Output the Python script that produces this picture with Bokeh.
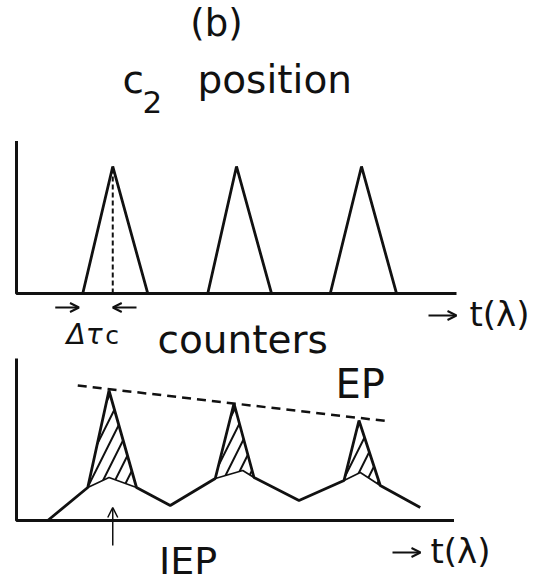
from bokeh.plotting import figure
from bokeh.models import Range1d, Arrow, OpenHead
from bokeh.core.properties import value
from bokeh.embed import file_html
from bokeh.resources import INLINE

# --- upper panel: counter response triangles (c2 position) ---
top_left = [0.53, 1.53, 2.51]      # t at left foot of each triangle
top_apex = [0.77, 1.76, 2.76]      # t at the apex
top_right = [1.05, 2.04, 3.04]     # t at right foot
top_height = [1.0, 1.0, 1.0]
top_axis_len = 3.52
top_axis_height = 1.2

# --- lower panel: spectrum with elastic peaks (EP) on the IEP background ---
iep_t = [0.25, 0.57, 0.74, 0.96, 1.23, 1.59, 1.81, 1.90, 2.26, 2.62, 2.75, 2.91, 3.23]
iep_y = [0.00, 0.33, 0.43, 0.33, 0.15, 0.42, 0.50, 0.43, 0.20, 0.40, 0.48, 0.35, 0.13]
peak_t = [0.74, 1.74, 2.74]
peak_y = [1.30, 1.17, 1.00]
peak_base_idx = [1, 5, 9]           # left foot index in the IEP polyline
ep_line_t = [0.49, 2.99]
ep_line_y = [1.35, 0.99]
bot_axis_len = 3.50
bot_axis_height = 1.62

INK = "#111111"
FONT = value("DejaVu Sans")

p = figure(width=551, height=583, x_range=Range1d(-0.128, 4.28),
           y_range=Range1d(-0.63, 5.20), output_backend="svg",
           toolbar_location=None, min_border=0,
           x_axis_location=None, y_axis_location=None)
p.extra_y_ranges = {"top": Range1d(-2.2835, 2.307)}
p.grid.grid_line_color = None
p.outline_line_color = None
p.background_fill_color = "white"
p.border_fill_color = "white"

# upper panel axes
p.line([0, 0, top_axis_len], [top_axis_height, 0, 0], line_color=INK,
       line_width=3, y_range_name="top")
# triangles
p.multi_line([[l, a, r] for l, a, r in zip(top_left, top_apex, top_right)],
             [[0, h, 0] for h in top_height], line_color=INK, line_width=2.8,
             y_range_name="top")
# dashed centre of the first triangle
p.line([top_apex[0], top_apex[0]], [0, top_height[0]], line_color=INK,
       line_width=2, line_dash="5 3", y_range_name="top")

# lower panel axes
p.line([0, 0, bot_axis_len], [bot_axis_height, 0, 0], line_color=INK, line_width=3)

# hatched elastic peaks sitting on the IEP humps
xs, ys = [], []
env_t, env_y = list(iep_t), list(iep_y)
for k, i in enumerate(peak_base_idx):
    xs.append([iep_t[i], peak_t[k], iep_t[i + 2], iep_t[i + 1]])
    ys.append([iep_y[i], peak_y[k], iep_y[i + 2], iep_y[i + 1]])
    env_t[i + 1] = peak_t[k]
    env_y[i + 1] = peak_y[k]
p.patches(xs, ys, fill_alpha=0, line_alpha=0, hatch_pattern="/",
          hatch_color=INK, hatch_scale=24, hatch_weight=2)
# inner IEP humps under each peak
p.multi_line([[iep_t[i], iep_t[i + 1], iep_t[i + 2]] for i in peak_base_idx],
             [[iep_y[i], iep_y[i + 1], iep_y[i + 2]] for i in peak_base_idx],
             line_color=INK, line_width=1.6)
# outer spectrum
p.line(env_t, env_y, line_color=INK, line_width=2.8)
# EP envelope
p.line(ep_line_t, ep_line_y, line_color=INK, line_width=2.5, line_dash="9 6")


def txt(x, y, s, size, yr="default", align="left", style="normal"):
    p.text([x], [y], text=[s], text_font=FONT, text_font_size=f"{size}px",
           text_align=align, text_baseline="middle", text_color=INK,
           text_font_style=style, y_range_name=yr)


def arrow(x0, y0, x1, y1, size=9, width=2, yr="default"):
    p.add_layout(Arrow(end=OpenHead(size=size, line_width=width, line_color=INK),
                       x_start=x0, y_start=y0, x_end=x1, y_end=y1,
                       line_width=width, line_color=INK, y_range_name=yr))


# titles
txt(1.60, 2.125, "(b)", 37, yr="top", align="center")
txt(0.848, 1.683, "c", 39, yr="top")
txt(1.008, 1.511, "2", 31, yr="top")
txt(1.448, 1.683, "position", 39, yr="top")

# Δτc marker below the first triangle
arrow(top_left[0] - 0.22, 2.13, top_left[0] - 0.03, 2.13)
arrow(top_apex[0] + 0.19, 2.13, top_apex[0], 2.13)
txt(0.40, 1.865, "Δτ", 28, style="italic")
txt(0.71, 1.854, "c", 25)
txt(1.128, 1.807, "counters", 39)

# time-axis labels
arrow(3.296, 2.05, 3.52, 2.05)
txt(3.624, 2.07, "t(λ)", 34)
arrow(3.008, -0.32, 3.232, -0.32)
txt(3.312, -0.30, "t(λ)", 34)

txt(2.552, 1.37, "EP", 40)
txt(1.14, -0.40, "IEP", 38)
arrow(top_apex[0], -0.25, top_apex[0], 0.13, size=10, width=1.5)

open("out.html", "w").write(file_html(p, INLINE))
